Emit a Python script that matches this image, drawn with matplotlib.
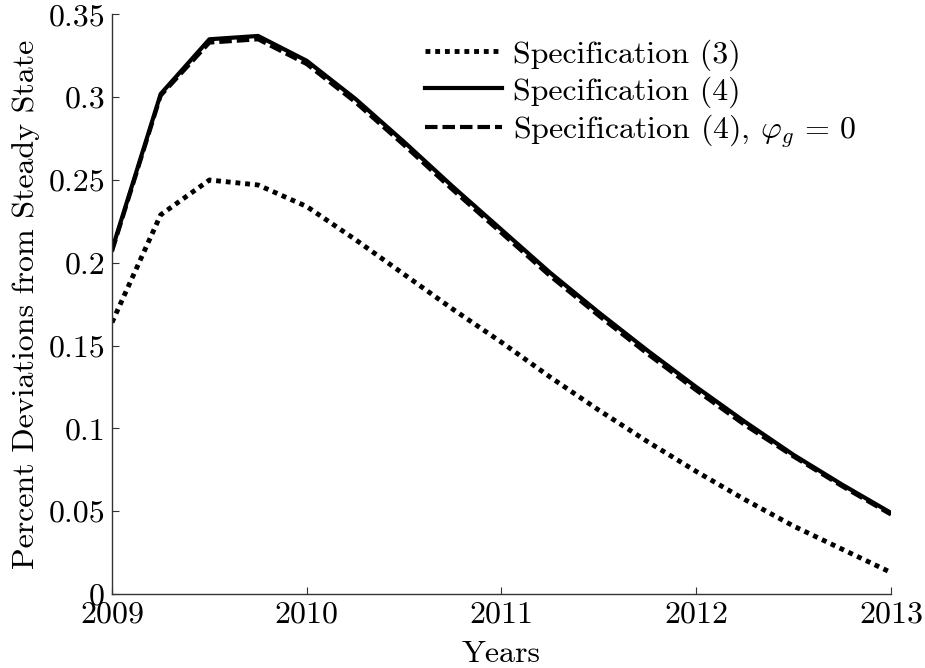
import matplotlib
matplotlib.use("Agg")
import matplotlib.pyplot as plt
from matplotlib.ticker import FixedLocator, FixedFormatter

plt.rcParams['font.family'] = 'serif'
plt.rcParams['font.serif'] = ['cmr10']
plt.rcParams['mathtext.fontset'] = 'cm'
plt.rcParams['axes.unicode_minus'] = False

years = [2009 + 0.25 * i for i in range(17)]
spec3 = [0.164, 0.229, 0.250, 0.247, 0.234, 0.214, 0.193, 0.172, 0.152,
         0.131, 0.111, 0.092, 0.074, 0.057, 0.041, 0.027, 0.013]
spec4 = [0.208, 0.302, 0.335, 0.337, 0.322, 0.299, 0.273, 0.246, 0.220,
         0.194, 0.170, 0.147, 0.125, 0.104, 0.084, 0.066, 0.049]
spec4_phi0 = [0.207, 0.301, 0.333, 0.335, 0.320, 0.297, 0.271, 0.244, 0.218,
              0.192, 0.168, 0.145, 0.123, 0.102, 0.083, 0.065, 0.048]

xticks = [2009, 2010, 2011, 2012, 2013]
xticklabels = ['2009', '2010', '2011', '2012', '2013']
yticks = [0, 0.05, 0.1, 0.15, 0.2, 0.25, 0.3, 0.35]
yticklabels = ['0', '0.05', '0.1', '0.15', '0.2', '0.25', '0.3', '0.35']
labels = ['Specification (3)', 'Specification (4)', r'Specification (4), $\varphi_g\,=\,0$']

fig = plt.figure(figsize=(9.25, 6.68), dpi=100)
ax = fig.add_axes([0.1211, 0.1108, 0.8421, 0.8676])

ax.plot(years, spec3, color='black', lw=3.5, linestyle=(0, (1, 1)), label=labels[0])
ax.plot(years, spec4, color='black', lw=3.0, linestyle='-', label=labels[1])
ax.plot(years, spec4_phi0, color='black', lw=3.0, linestyle=(0, (3, 1.2)), label=labels[2])

ax.set_xlim(2009, 2013)
ax.set_ylim(0, 0.35)
ax.xaxis.set_major_locator(FixedLocator(xticks))
ax.xaxis.set_major_formatter(FixedFormatter(xticklabels))
ax.yaxis.set_major_locator(FixedLocator(yticks))
ax.yaxis.set_major_formatter(FixedFormatter(yticklabels))

for s in ['top', 'right']:
    ax.spines[s].set_visible(False)
for s in ['left', 'bottom']:
    ax.spines[s].set_color('#333333')
    ax.spines[s].set_linewidth(1.0)

ax.tick_params(direction='in', length=5, width=0.8, color='#333333',
               labelsize=23, pad=5)

ax.set_xlabel('Years', fontsize=23, labelpad=9)
ax.set_ylabel('Percent Deviations from Steady State', fontsize=23, labelpad=6)

leg = ax.legend(loc='upper left', bbox_to_anchor=(0.377, 0.99), frameon=False,
                fontsize=23, handlelength=2.4, handletextpad=0.35,
                labelspacing=0.16, borderaxespad=0.2)

fig.savefig('out.png', dpi=100)
